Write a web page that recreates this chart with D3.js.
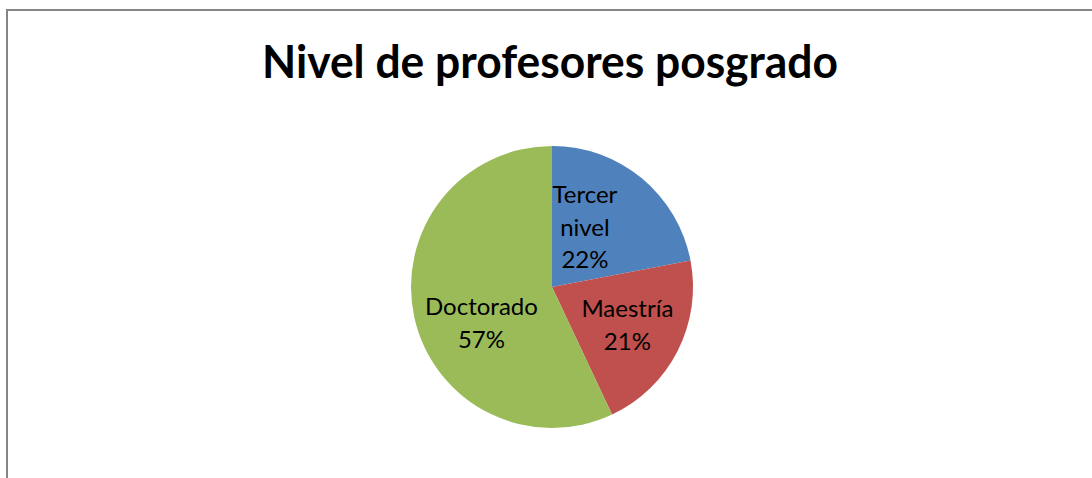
<!DOCTYPE html>
<html>
<head>
<meta charset="utf-8">
<script src="https://cdn.jsdelivr.net/npm/d3@7"></script>
<style>
  body { margin: 0; background: #fff; }
  svg { display: block; }
  text { font-family: Lato, "Open Sans", sans-serif; }
</style>
</head>
<body>
<div id="chart"></div>
<script>
// datos
var categorias = ["Tercer nivel", "Maestría", "Doctorado"];
var valores = [22, 21, 57];
var colores = ["#4F81BD", "#C0504D", "#9BBB59"];
var titulo = "Nivel de profesores posgrado";

var width = 1092,
    height = 478;

var svg = d3.select("#chart").append("svg")
    .attr("width", width)
    .attr("height", height);

// marco del grafico (se sale por la derecha y por abajo)
svg.append("rect")
    .attr("x", 7)
    .attr("y", 10)
    .attr("width", width + 20)
    .attr("height", height + 20)
    .attr("fill", "none")
    .attr("stroke", "#858585")
    .attr("stroke-width", 2);

var tit = svg.append("text")
    .attr("x", 550)
    .attr("y", 78)
    .attr("text-anchor", "middle")
    .style("font-size", "45px")
    .style("font-weight", "bold")
    .attr("fill", "#000")
    .text(titulo);
// ajusto el ancho al del original
tit.attr("textLength", 576).attr("lengthAdjust", "spacingAndGlyphs");

var cx = 552, cy = 287, radio = 141;

var datos = categorias.map(function(c, i) { return { nombre: c, valor: valores[i], color: colores[i] }; });
var total = d3.sum(valores);

// ajuste tipo "mejor ajuste" de excel para cada etiqueta
var ajuste = [[-21, 6], [0, 0], [12, 18]];

var pie = d3.pie()
    .sort(null)
    .value(function(d) { return d.valor; });

var arc = d3.arc().innerRadius(0).outerRadius(radio);
var arcEtiqueta = d3.arc().innerRadius(radio * 0.6).outerRadius(radio * 0.6);

var g = svg.append("g").attr("transform", "translate(" + cx + "," + cy + ")");

var porciones = g.selectAll(".porcion")
    .data(pie(datos))
    .enter().append("g")
    .attr("class", "porcion");

porciones.append("path")
    .attr("d", arc)
    .attr("fill", function(d) { return d.data.color; });

var fmt = d3.format(".0%");

porciones.append("text")
    .attr("transform", function(d, i) {
        var c = arcEtiqueta.centroid(d);
        return "translate(" + (c[0] + ajuste[i][0]) + "," + (c[1] + ajuste[i][1]) + ")";
    })
    .attr("text-anchor", "middle")
    .style("font-size", "24px")
    .attr("fill", "#000")
    .each(function(d) {
        var lineas = d.data.nombre === "Tercer nivel" ? ["Tercer", "nivel"] : [d.data.nombre];
        lineas.push(fmt(d.data.valor / total));
        var t = d3.select(this);
        var lh = 32.5;
        var y0 = -(lineas.length - 1) * lh / 2 + 8;
        lineas.forEach(function(l, i) {
            t.append("tspan").attr("x", 0).attr("y", y0 + i * lh).text(l);
        });
    });
</script>
</body>
</html>
